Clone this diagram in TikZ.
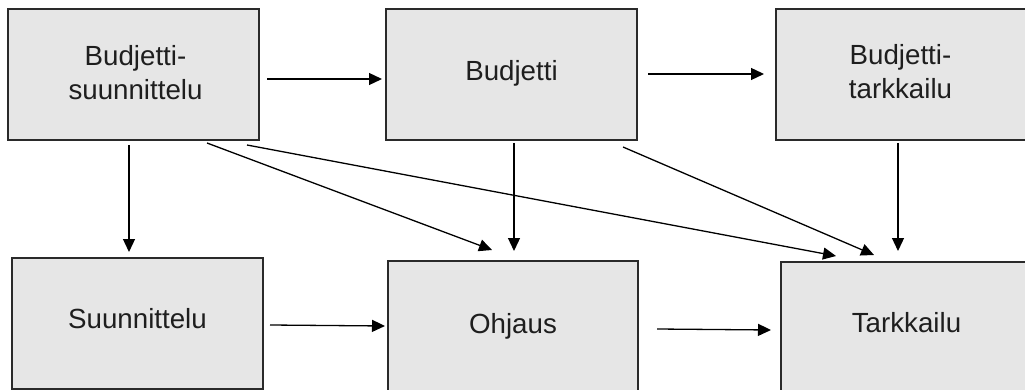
\documentclass[tikz,border=0pt]{standalone}
\usepackage{fontspec}
\setmainfont{Liberation Sans}
\usetikzlibrary{arrows.meta}
\definecolor{boxfill}{HTML}{E6E6E6}
\definecolor{boxline}{HTML}{2A2A2A}
\definecolor{txtcol}{HTML}{1E1E1E}
\begin{document}
\begin{tikzpicture}[x=1pt,y=-1pt,
  boxnode/.style={draw=boxline, line width=1.6pt, fill=boxfill, rectangle,
    minimum height=131pt, inner sep=0pt, outer sep=0pt, anchor=north west},
  txtone/.style={font=\fontsize{27.7}{35}\selectfont, text=txtcol, inner sep=0pt, anchor=base},
  txttwo/.style={font=\fontsize{27.7}{34.5}\selectfont, text=txtcol, inner sep=0pt, align=center, anchor=center},
  arr/.style={line width=1.3pt, draw=black, -{Triangle[length=13pt,width=12pt]}}]
\useasboundingbox (0,0) rectangle (1025,390);
\fill[white] (0,0) rectangle (1025,390);
% boxes
\node[boxnode, minimum width=251pt] (b1) at (8,9) {};
\node[boxnode, minimum width=251pt] (b2) at (386,9) {};
\node[boxnode, minimum width=251pt] (b3) at (776,9) {};
\node[boxnode, minimum width=251pt] (b4) at (12,258) {};
\node[boxnode, minimum width=250pt] (b5) at (388,261) {};
\node[boxnode, minimum width=251pt] (b6) at (781,262) {};
% texts
\node[txttwo] (t1) at ([xshift=2pt,yshift=2pt]b1.center) {Budjetti-\\suunnittelu};
\node[txtone] (t2) at ([yshift=-6.5pt]b2.center) {Budjetti};
\node[txttwo] (t3) at ([xshift=-1pt,yshift=3pt]b3.center) {Budjetti-\\tarkkailu};
\node[txtone] (t4) at ([yshift=-4.5pt]b4.center) {Suunnittelu};
\node[txtone] (t5) at ([yshift=-6.5pt]b5.center) {Ohjaus};
\node[txtone] (t6) at ([yshift=-4.5pt]b6.center) {Tarkkailu};
% arrows
\draw[arr] ([xshift=8pt,yshift=-4.5pt]b1.east) -- ([xshift=-4pt,yshift=-4.5pt]b2.west);
\draw[arr] ([xshift=11pt,yshift=0.5pt]b2.east) -- ([xshift=-12pt,yshift=0.5pt]b3.west);
\draw[arr] ([xshift=-4.5pt,yshift=-5pt]b1.south) -- ([xshift=-8.5pt,yshift=6pt]b4.north);
\draw[arr] ([xshift=73.5pt,yshift=-3pt]b1.south) -- ([xshift=-21pt,yshift=11pt]b5.north);
\draw[arr] ([xshift=113.5pt,yshift=-5pt]b1.south) -- ([xshift=-70.5pt,yshift=6pt]b6.north);
\draw[arr] ([xshift=2.5pt,yshift=-3pt]b2.south) -- ([xshift=1pt,yshift=10pt]b5.north);
\draw[arr] ([xshift=111.5pt,yshift=-7pt]b2.south) -- ([xshift=-32.5pt,yshift=7pt]b6.north);
\draw[arr] ([xshift=-3.5pt,yshift=-3pt]b3.south) -- ([xshift=-8.5pt,yshift=11pt]b6.north);
\draw[arr] ([xshift=7pt,yshift=-1.5pt]b4.east) -- ([xshift=-3pt,yshift=0.5pt]b5.west);
\draw[arr] ([xshift=19pt,yshift=-2.5pt]b5.east) -- ([xshift=-10pt,yshift=-2.5pt]b6.west);
\end{tikzpicture}
\end{document}
